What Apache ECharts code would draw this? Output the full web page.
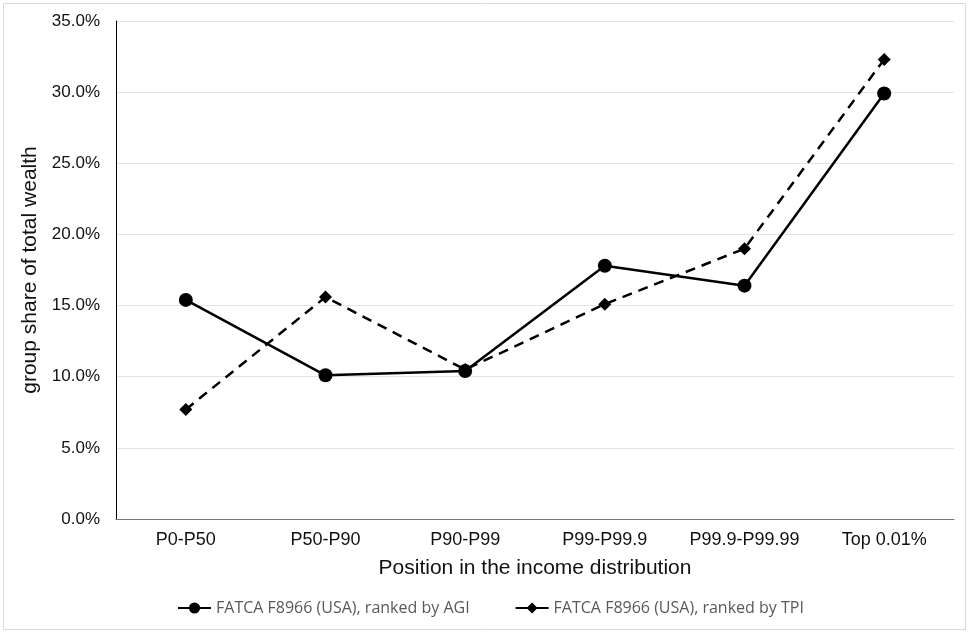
<!DOCTYPE html>
<html><head><meta charset="utf-8">
<script src="https://cdn.jsdelivr.net/npm/echarts@6/dist/echarts.min.js"></script>
<style>html,body{margin:0;padding:0;background:#fff}#c{width:969px;height:633px}</style>
</head><body><div id="c"></div>
<script>
const categories = ["P0-P50", "P50-P90", "P90-P99", "P99-P99.9", "P99.9-P99.99", "Top 0.01%"];
const agiValues = [15.4, 10.1, 10.4, 17.8, 16.4, 29.9];
const tpiValues = [7.7, 15.6, 10.5, 15.1, 19.0, 32.3];
const seriesNames = ["FATCA F8966 (USA), ranked by AGI", "FATCA F8966 (USA), ranked by TPI"];

const chart = echarts.init(document.getElementById('c'), null, {renderer: 'canvas'});
chart.setOption({
  animation: false,
  backgroundColor: '#fff',
  graphic: [{type: 'rect', shape: {x: 3.5, y: 3.5, width: 962, height: 626}, style: {fill: 'none', stroke: '#d9d9d9', lineWidth: 1}, silent: true}],
  grid: {left: 116, right: 15, top: 21, bottom: 114},
  legend: {
    top: 595, left: 172, itemWidth: 33, itemHeight: 14, itemGap: 45,
    textStyle: {color: '#595959', fontSize: 16, fontFamily: 'Open Sans'},
    data: [
      {name: seriesNames[0]},
      {name: seriesNames[1], lineStyle: {type: 'solid'}}
    ]
  },
  xAxis: {
    type: 'category', data: categories, boundaryGap: true,
    name: 'Position in the income distribution', nameLocation: 'middle', nameGap: 39,
    nameTextStyle: {fontSize: 21, color: '#111', fontFamily: 'Liberation Sans'},
    axisLine: {lineStyle: {color: '#767676', width: 1}},
    axisTick: {show: false},
    axisLabel: {fontSize: 18, color: '#111', margin: 12, interval: 0, hideOverlap: false, fontFamily: 'Liberation Sans'}
  },
  yAxis: {
    type: 'value', min: 0, max: 35, interval: 5,
    name: 'group share of total wealth', nameLocation: 'middle', nameGap: 74,
    nameTextStyle: {fontSize: 21, color: '#111', fontFamily: 'Liberation Sans'},
    axisLine: {show: true, lineStyle: {color: '#000', width: 1}},
    axisTick: {show: false},
    splitLine: {lineStyle: {color: '#e3e3e3', width: 1}},
    axisLabel: {fontSize: 17, color: '#111', margin: 16, fontFamily: 'Liberation Sans', formatter: v => v.toFixed(1) + '%'}
  },
  series: [
    {name: seriesNames[0], type: 'line', data: agiValues, symbol: 'circle', symbolSize: 14,
     lineStyle: {color: '#000', width: 2.5}, itemStyle: {color: '#000'}},
    {name: seriesNames[1], type: 'line', data: tpiValues, symbol: 'diamond', symbolSize: 13,
     lineStyle: {color: '#000', width: 2.5, type: [10, 7]}, itemStyle: {color: '#000'}}
  ]
});
</script></body></html>
